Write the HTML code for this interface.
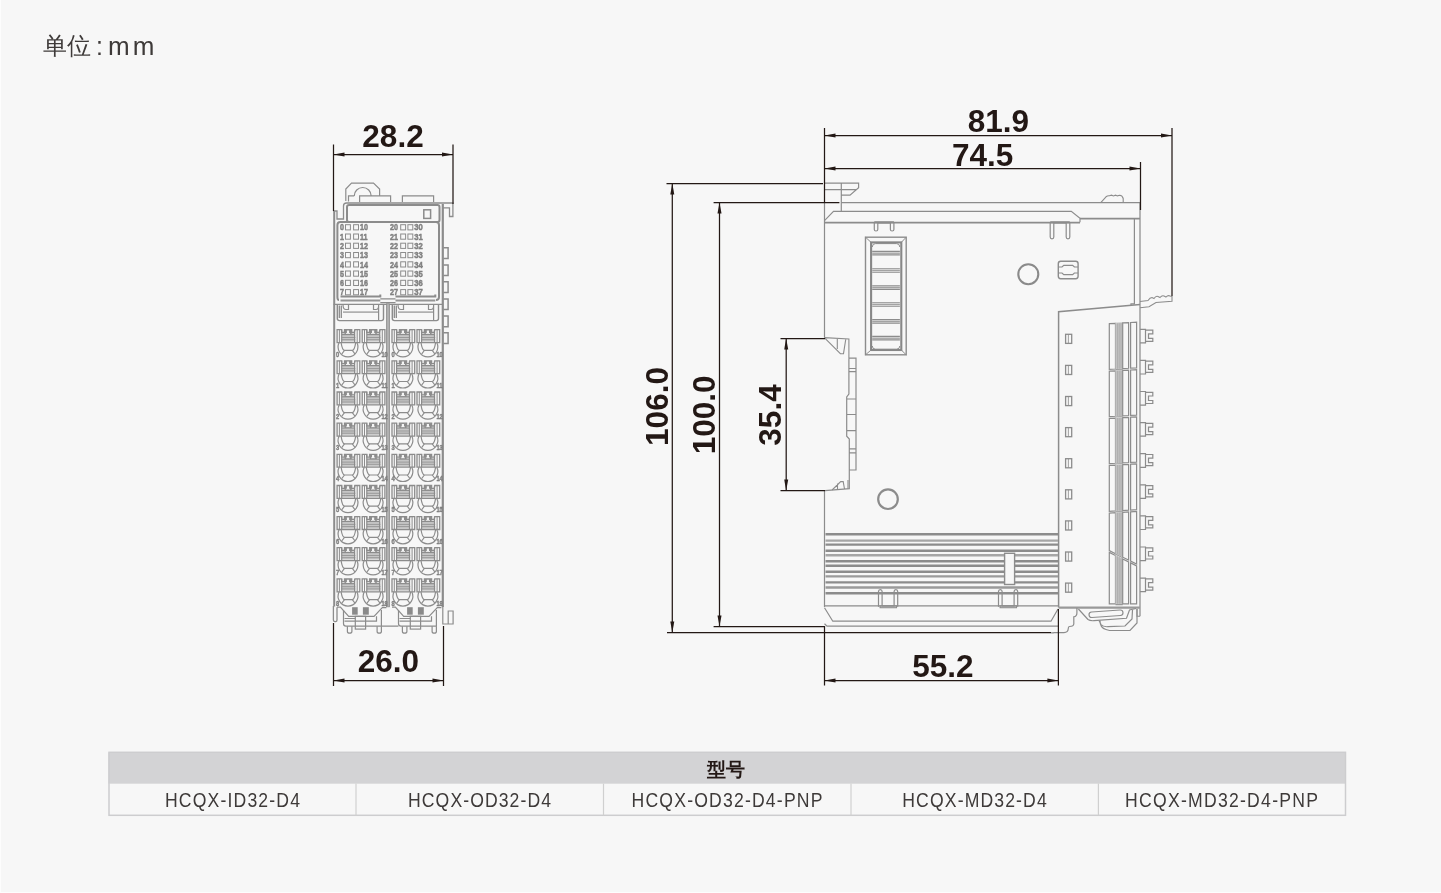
<!DOCTYPE html>
<html><head><meta charset="utf-8">
<style>
html,body{margin:0;padding:0;background:#f7f7f7;width:1441px;height:893px;overflow:hidden}
svg{position:absolute;left:0;top:0;will-change:transform}
.dim{font-family:"Liberation Sans",sans-serif;font-weight:bold;fill:#231815}
.tbl{font-family:"Liberation Sans",sans-serif;fill:#3e3a39}
.lb{font-family:"Liberation Sans",sans-serif;font-weight:bold;fill:#8a8a8a}
</style></head><body>
<svg width="1441" height="893" viewBox="0 0 1441 893">

<defs>
<path id="ar" d="M0 0 L11 -2 L11 2 Z" fill="#231815"/>
<g id="cell" fill="none" stroke="#8c8c8c" stroke-width="1.1">
 <rect x="4.7" y="5.8" width="13.4" height="6.9" fill="#c6c6c6" stroke="none"/>
 <path d="M4.6 8.4 H18.2 M4.6 10.6 H18.2" stroke="#999" stroke-width="1"/>
 <path d="M4.6 12.6 H18.2" stroke="#dedede" stroke-width="0.9"/>
 <path d="M0 13.5 V0.6 H4.6 V3.4 H7.4 V0.6 H14.6 V3.4 H17.2 L17.8 0.6 H22.7 V13.5 Z" stroke-width="1.3"/>
 <path d="M7.4 0.6 H14.6 V5.4 H7.4 Z" fill="#8c8c8c" stroke="none"/>
 <path d="M9.8 1.4 H12 V3.9 H13 V4.9 H8.8 V3.9 H9.8 Z" fill="#f4f4f4" stroke="none"/>
 <path d="M2.3 0.6 V13.5 M20.1 0.6 V13.5" stroke-width="1"/>
 <path d="M4.6 0.6 V13.5 M17.5 0.6 V13.5" stroke-width="1.2"/>
 <path d="M4.6 5.4 H17.5" stroke-width="1.3"/>
 <path d="M2.03 13.5 A9.9 9.9 0 1 0 19.77 13.5" stroke-width="1.2"/>
 <path d="M4 13.5 Q5.2 21.2 7.4 21.3 H15.2 Q17.4 21.2 18.6 13.5" stroke-width="1.2"/>
 <path d="M7.4 21.3 L4.6 25 M15.2 21.3 L18 25" stroke-width="1.1"/>
</g>
</defs>
<rect x="0" y="0" width="1" height="893" fill="#fdfdfd"/><rect x="0" y="892" width="1441" height="1" fill="#fdfdfd"/>
<text class="tbl" x="42.6" y="54" font-size="24">单位</text>
<text class="tbl" x="96" y="55" font-size="25">:</text>
<text class="tbl" x="108" y="55" font-size="26" letter-spacing="3">mm</text>
<g fill="none" stroke="#8c8c8c" stroke-width="1.2">
<path d="M345.8 201 V189 L351.5 183.1 H373.5 L379.6 189 V196" />
<path d="M354.2 196 A8.5 8.5 0 0 1 371.2 196" />
<path d="M348.5 201.5 V195.8 H354.2 M359.6 202 V195.8 H390.6 V202 M402.4 202 V195.8 H433.6 V202" />
<path d="M333.5 211 H337 V219 H343.5 V206 Q343.5 203 346.5 203 H452.9 V216.5 H449.5 V207.8 H442.8" stroke-width="1.3"/>
<rect x="347" y="205" width="92.5" height="17" rx="2" stroke-width="2"/>
<rect x="423.8" y="209.8" width="6.8" height="8.6" stroke-width="1.5"/>
<path d="M339 300 Q337.4 300 337.4 297 V225 Q337.4 222 340.4 222 H436 Q439 222 439 225 V297 Q439 300 436 300" stroke-width="2"/>
<line x1="334.2" y1="211" x2="334.2" y2="606.5" stroke-width="2"/>
<line x1="442.8" y1="204" x2="442.8" y2="607" stroke-width="2.2"/>
<path d="M443.3 247.8 H448.1 V258.5 H443.3" stroke-width="1.5"/>
<path d="M443.3 264.9 H448.1 V275.59999999999997 H443.3" stroke-width="1.5"/>
<path d="M443.3 281.7 H448.1 V292.4 H443.3" stroke-width="1.5"/>
<path d="M443.3 298.9 H448.1 V309.59999999999997 H443.3" stroke-width="1.5"/>
<path d="M443.3 316 H448.1 V326.7 H443.3" stroke-width="1.5"/>
<path d="M443.3 332.8 H448.1 V343.5 H443.3" stroke-width="1.5"/>
<g transform="translate(0,0)">
<path d="M340.5 296.6 H380.3 V294.5" stroke-width="2"/>
<path d="M340.5 300.6 H380.3" stroke-width="2" stroke="#959595"/>
<path d="M337.3 304.4 V318.5 Q337.3 320.6 339.5 320.6 H381.4 Q383.5 320.6 383.5 318.5 V304.4" stroke-width="1.4"/>
<path d="M343 312.1 H378" stroke="#b0b0b0" stroke-width="1.6"/>
<path d="M339.3 305.5 V318 M341.3 305.5 V318" stroke="#8a8a8a" stroke-width="1.3"/>
<path d="M378.6 304.4 V320.6 M343 304.4 Q343 309.5 346 309.5 H348.5 V304.4 M373.5 304.4 V309.5 H376 Q378.6 309.5 378.6 306" stroke-width="1.2"/>
</g>
<g transform="translate(55,0)">
<path d="M340.5 296.6 H380.3 V294.5" stroke-width="2"/>
<path d="M340.5 300.6 H380.3" stroke-width="2" stroke="#959595"/>
<path d="M337.3 304.4 V318.5 Q337.3 320.6 339.5 320.6 H381.4 Q383.5 320.6 383.5 318.5 V304.4" stroke-width="1.4"/>
<path d="M343 312.1 H378" stroke="#b0b0b0" stroke-width="1.6"/>
<path d="M339.3 305.5 V318 M341.3 305.5 V318" stroke="#8a8a8a" stroke-width="1.3"/>
<path d="M378.6 304.4 V320.6 M343 304.4 Q343 309.5 346 309.5 H348.5 V304.4 M373.5 304.4 V309.5 H376 Q378.6 309.5 378.6 306" stroke-width="1.2"/>
</g>
<path d="M380.3 298.8 H395.5 M380.3 302.7 H395.5" stroke-width="1.3"/>
<path d="M333.5 304.4 H442.8" stroke-width="1.4"/>
<rect x="386.5" y="303.8" width="3" height="303" fill="#b0b0b0" stroke="#8c8c8c" stroke-width="0.8"/>
</g>
<use href="#cell" transform="translate(337.1,329.1)"/>
<use href="#cell" transform="translate(362.2,329.1)"/>
<use href="#cell" transform="translate(392,329.1)"/>
<use href="#cell" transform="translate(417,329.1)"/>
<use href="#cell" transform="translate(337.1,360.2)"/>
<use href="#cell" transform="translate(362.2,360.2)"/>
<use href="#cell" transform="translate(392,360.2)"/>
<use href="#cell" transform="translate(417,360.2)"/>
<use href="#cell" transform="translate(337.1,391.4)"/>
<use href="#cell" transform="translate(362.2,391.4)"/>
<use href="#cell" transform="translate(392,391.4)"/>
<use href="#cell" transform="translate(417,391.4)"/>
<use href="#cell" transform="translate(337.1,422.6)"/>
<use href="#cell" transform="translate(362.2,422.6)"/>
<use href="#cell" transform="translate(392,422.6)"/>
<use href="#cell" transform="translate(417,422.6)"/>
<use href="#cell" transform="translate(337.1,453.7)"/>
<use href="#cell" transform="translate(362.2,453.7)"/>
<use href="#cell" transform="translate(392,453.7)"/>
<use href="#cell" transform="translate(417,453.7)"/>
<use href="#cell" transform="translate(337.1,484.9)"/>
<use href="#cell" transform="translate(362.2,484.9)"/>
<use href="#cell" transform="translate(392,484.9)"/>
<use href="#cell" transform="translate(417,484.9)"/>
<use href="#cell" transform="translate(337.1,516.0)"/>
<use href="#cell" transform="translate(362.2,516.0)"/>
<use href="#cell" transform="translate(392,516.0)"/>
<use href="#cell" transform="translate(417,516.0)"/>
<use href="#cell" transform="translate(337.1,547.1)"/>
<use href="#cell" transform="translate(362.2,547.1)"/>
<use href="#cell" transform="translate(392,547.1)"/>
<use href="#cell" transform="translate(417,547.1)"/>
<use href="#cell" transform="translate(337.1,578.3)"/>
<use href="#cell" transform="translate(362.2,578.3)"/>
<use href="#cell" transform="translate(392,578.3)"/>
<use href="#cell" transform="translate(417,578.3)"/>
<g class="lb" font-size="8" fill="#777" stroke="#777" stroke-width="0.4">
<text transform="translate(336.1,356.6) scale(0.72,1)">0</text>
<text transform="translate(381.4,356.6) scale(0.72,1)">10</text>
<text transform="translate(391.4,356.6) scale(0.72,1)">0</text>
<text transform="translate(436.4,356.6) scale(0.72,1)">10</text>
<text transform="translate(336.1,387.8) scale(0.72,1)">1</text>
<text transform="translate(381.4,387.8) scale(0.72,1)">11</text>
<text transform="translate(391.4,387.8) scale(0.72,1)">1</text>
<text transform="translate(436.4,387.8) scale(0.72,1)">11</text>
<text transform="translate(336.1,418.9) scale(0.72,1)">2</text>
<text transform="translate(381.4,418.9) scale(0.72,1)">12</text>
<text transform="translate(391.4,418.9) scale(0.72,1)">2</text>
<text transform="translate(436.4,418.9) scale(0.72,1)">12</text>
<text transform="translate(336.1,450.1) scale(0.72,1)">3</text>
<text transform="translate(381.4,450.1) scale(0.72,1)">13</text>
<text transform="translate(391.4,450.1) scale(0.72,1)">3</text>
<text transform="translate(436.4,450.1) scale(0.72,1)">13</text>
<text transform="translate(336.1,481.2) scale(0.72,1)">4</text>
<text transform="translate(381.4,481.2) scale(0.72,1)">14</text>
<text transform="translate(391.4,481.2) scale(0.72,1)">4</text>
<text transform="translate(436.4,481.2) scale(0.72,1)">14</text>
<text transform="translate(336.1,512.4) scale(0.72,1)">5</text>
<text transform="translate(381.4,512.4) scale(0.72,1)">15</text>
<text transform="translate(391.4,512.4) scale(0.72,1)">5</text>
<text transform="translate(436.4,512.4) scale(0.72,1)">15</text>
<text transform="translate(336.1,543.5) scale(0.72,1)">6</text>
<text transform="translate(381.4,543.5) scale(0.72,1)">16</text>
<text transform="translate(391.4,543.5) scale(0.72,1)">6</text>
<text transform="translate(436.4,543.5) scale(0.72,1)">16</text>
<text transform="translate(336.1,574.6) scale(0.72,1)">7</text>
<text transform="translate(381.4,574.6) scale(0.72,1)">17</text>
<text transform="translate(391.4,574.6) scale(0.72,1)">7</text>
<text transform="translate(436.4,574.6) scale(0.72,1)">17</text>
<text transform="translate(336.1,605.8) scale(0.72,1)">8</text>
<text transform="translate(381.4,605.8) scale(0.72,1)">18</text>
<text transform="translate(391.4,605.8) scale(0.72,1)">8</text>
<text transform="translate(436.4,605.8) scale(0.72,1)">18</text>
</g>
<g class="lb" font-size="9" fill="#777" stroke="#777" stroke-width="0.45">
<text transform="translate(339.9,230.4) scale(0.8,1)">0</text>
<text transform="translate(360.0,230.4) scale(0.8,1)">10</text>
<text transform="translate(389.9,230.4) scale(0.8,1)">20</text>
<text transform="translate(414.2,230.4) scale(0.85,1)">30</text>
<text transform="translate(339.9,239.7) scale(0.8,1)">1</text>
<text transform="translate(360.0,239.7) scale(0.8,1)">11</text>
<text transform="translate(389.9,239.7) scale(0.8,1)">21</text>
<text transform="translate(414.2,239.7) scale(0.85,1)">31</text>
<text transform="translate(339.9,248.9) scale(0.8,1)">2</text>
<text transform="translate(360.0,248.9) scale(0.8,1)">12</text>
<text transform="translate(389.9,248.9) scale(0.8,1)">22</text>
<text transform="translate(414.2,248.9) scale(0.85,1)">32</text>
<text transform="translate(339.9,258.2) scale(0.8,1)">3</text>
<text transform="translate(360.0,258.2) scale(0.8,1)">13</text>
<text transform="translate(389.9,258.2) scale(0.8,1)">23</text>
<text transform="translate(414.2,258.2) scale(0.85,1)">33</text>
<text transform="translate(339.9,267.5) scale(0.8,1)">4</text>
<text transform="translate(360.0,267.5) scale(0.8,1)">14</text>
<text transform="translate(389.9,267.5) scale(0.8,1)">24</text>
<text transform="translate(414.2,267.5) scale(0.85,1)">34</text>
<text transform="translate(339.9,276.8) scale(0.8,1)">5</text>
<text transform="translate(360.0,276.8) scale(0.8,1)">15</text>
<text transform="translate(389.9,276.8) scale(0.8,1)">25</text>
<text transform="translate(414.2,276.8) scale(0.85,1)">35</text>
<text transform="translate(339.9,286.0) scale(0.8,1)">6</text>
<text transform="translate(360.0,286.0) scale(0.8,1)">16</text>
<text transform="translate(389.9,286.0) scale(0.8,1)">26</text>
<text transform="translate(414.2,286.0) scale(0.85,1)">36</text>
<text transform="translate(339.9,295.3) scale(0.8,1)">7</text>
<text transform="translate(360.0,295.3) scale(0.8,1)">17</text>
<text transform="translate(389.9,295.3) scale(0.8,1)">27</text>
<text transform="translate(414.2,295.3) scale(0.85,1)">37</text>
</g>
<g fill="none" stroke="#8c8c8c" stroke-width="1">
<rect x="345.5" y="224.7" width="4.9" height="5.2"/>
<rect x="353.6" y="224.7" width="4.9" height="5.2"/>
<rect x="400.7" y="224.7" width="4.9" height="5.2"/>
<rect x="407.9" y="224.7" width="4.9" height="5.2"/>
<rect x="345.5" y="234.0" width="4.9" height="5.2"/>
<rect x="353.6" y="234.0" width="4.9" height="5.2"/>
<rect x="400.7" y="234.0" width="4.9" height="5.2"/>
<rect x="407.9" y="234.0" width="4.9" height="5.2"/>
<rect x="345.5" y="243.2" width="4.9" height="5.2"/>
<rect x="353.6" y="243.2" width="4.9" height="5.2"/>
<rect x="400.7" y="243.2" width="4.9" height="5.2"/>
<rect x="407.9" y="243.2" width="4.9" height="5.2"/>
<rect x="345.5" y="252.5" width="4.9" height="5.2"/>
<rect x="353.6" y="252.5" width="4.9" height="5.2"/>
<rect x="400.7" y="252.5" width="4.9" height="5.2"/>
<rect x="407.9" y="252.5" width="4.9" height="5.2"/>
<rect x="345.5" y="261.8" width="4.9" height="5.2"/>
<rect x="353.6" y="261.8" width="4.9" height="5.2"/>
<rect x="400.7" y="261.8" width="4.9" height="5.2"/>
<rect x="407.9" y="261.8" width="4.9" height="5.2"/>
<rect x="345.5" y="271.0" width="4.9" height="5.2"/>
<rect x="353.6" y="271.0" width="4.9" height="5.2"/>
<rect x="400.7" y="271.0" width="4.9" height="5.2"/>
<rect x="407.9" y="271.0" width="4.9" height="5.2"/>
<rect x="345.5" y="280.3" width="4.9" height="5.2"/>
<rect x="353.6" y="280.3" width="4.9" height="5.2"/>
<rect x="400.7" y="280.3" width="4.9" height="5.2"/>
<rect x="407.9" y="280.3" width="4.9" height="5.2"/>
<rect x="345.5" y="289.6" width="4.9" height="5.2"/>
<rect x="353.6" y="289.6" width="4.9" height="5.2"/>
<rect x="400.7" y="289.6" width="4.9" height="5.2"/>
<rect x="407.9" y="289.6" width="4.9" height="5.2"/>
</g>
<g fill="none" stroke="#8c8c8c" stroke-width="1.2">
<path d="M333.4 606.1 V620 Q333.4 621.6 335 621.6 H335.5 Q337 621.6 337 620 V607.2" stroke-width="1.3"/>
<g transform="translate(0,0)">
<path d="M337 607.2 H340.4 L348.7 616.3 H374 L382.3 607.7 H386.4"/>
<path d="M343.5 610 V623.5 Q343.5 626.2 346 626.2 H381.4 V610"/>
<path d="M344.5 618.5 H355.3 M344.5 621.2 H376.5 V616.3"/>
<rect x="355.3" y="616.3" width="10.3" height="12.8"/>
<path d="M347.4 626.2 V631.5 Q347.4 633.2 349.6 633.2 Q351.9 633.2 351.9 631.5 V626.2 M377.1 626.2 V631.5 Q377.1 633.2 379.2 633.2 Q381.4 633.2 381.4 631.5 V626.2"/>
<rect x="352.1" y="607.2" width="5.6" height="7.5" fill="#8a8a8a" stroke="none"/>
<rect x="362.9" y="607.2" width="5.9" height="7.5" fill="#8a8a8a" stroke="none"/>
</g>
<g transform="translate(55,0)">
<path d="M337 607.2 H340.4 L348.7 616.3 H374 L382.3 607.7 H386.4"/>
<path d="M343.5 610 V623.5 Q343.5 626.2 346 626.2 H381.4 V610"/>
<path d="M344.5 618.5 H355.3 M344.5 621.2 H376.5 V616.3"/>
<rect x="355.3" y="616.3" width="10.3" height="12.8"/>
<path d="M347.4 626.2 V631.5 Q347.4 633.2 349.6 633.2 Q351.9 633.2 351.9 631.5 V626.2 M377.1 626.2 V631.5 Q377.1 633.2 379.2 633.2 Q381.4 633.2 381.4 631.5 V626.2"/>
<rect x="352.1" y="607.2" width="5.6" height="7.5" fill="#8a8a8a" stroke="none"/>
<rect x="362.9" y="607.2" width="5.9" height="7.5" fill="#8a8a8a" stroke="none"/>
</g>
<path d="M442.8 606 V624 H453.1 V611 H448.2 V624 M381.4 626.2 H398.5" stroke-width="1.2"/>
</g>
<g fill="none" stroke="#8c8c8c" stroke-width="1.2">
<path d="M824.5 183.1 H858.6 V187.8 L850 195.1 H841.3 M824.5 189.7 H856.4 M841.3 183.1 V211.3"/>
<path d="M841.3 202.7 H1140"/>
<path d="M1101 202.3 L1106 196.8 Q1107.5 195.6 1109.5 195.8 L1111.5 195.2 L1113.5 195.9 L1115.5 195.2 L1117.5 195.9 L1119.5 195.3 Q1122.5 195.6 1123.2 198.5 V202" stroke-width="1.1"/>
<path d="M824.5 220.7 L833.5 211.4 H1071.3 L1080 218.4 V222.3" stroke-width="1.15"/>
<path d="M824.5 222.6 H1080 M1080 218.6 H1140" stroke-width="1.9"/>
<path d="M824.5 202 V337.6 M824.5 490.6 V607"/>
<path d="M874.3 222.2 H893.9 M1050.2 222.2 H1069.8" stroke-width="2"/>
<path d="M874.3 222.3 V229.5 Q874.3 231 876 231 Q877.8 231 877.8 229.5 V222.8 H890.4 V229.5 Q890.4 231 892.1 231 Q893.9 231 893.9 229.5 V222.3"/>
<path d="M1050.2 222.3 V237 Q1050.2 238.8 1052 238.8 Q1053.8 238.8 1053.8 237 V223 H1066.2 V237 Q1066.2 238.8 1068 238.8 Q1069.8 238.8 1069.8 237 V222.3"/>
<rect x="865.5" y="237.2" width="40.7" height="117.6" stroke-width="1.4"/>
<rect x="871.1" y="242.4" width="30.2" height="107.6" stroke-width="2.1" stroke="#878787"/>
<path d="M865.5 237.2 L871.1 242.4 M906.2 237.2 L901.3 242.4 M865.5 354.8 L871.1 350 M906.2 354.8 L901.3 350" stroke-width="1"/>
<path d="M872.3 247 Q872.3 243.6 875.5 243.6 H896.5 Q899.8 243.6 899.8 247" stroke-width="1"/>
<path d="M872.3 346 Q872.3 349.2 875.5 349.2 H896.5 Q899.8 349.2 899.8 346" stroke-width="1"/>
<path d="M872.2 251.4 H899.9 M872.2 254.9 H899.9" stroke-width="1.1"/>
<path d="M872.2 253.2 H899.9" stroke-width="1.4" stroke="#a3a3a3"/>
<path d="M872.2 268.7 H899.9 M872.2 272.2 H899.9" stroke-width="1.1"/>
<path d="M872.2 270.5 H899.9" stroke-width="1.4" stroke="#a3a3a3"/>
<path d="M872.2 285.9 H899.9 M872.2 289.4 H899.9" stroke-width="1.1"/>
<path d="M872.2 287.7 H899.9" stroke-width="1.4" stroke="#a3a3a3"/>
<path d="M872.2 302.7 H899.9 M872.2 306.2 H899.9" stroke-width="1.1"/>
<path d="M872.2 304.5 H899.9" stroke-width="1.4" stroke="#a3a3a3"/>
<path d="M872.2 319.6 H899.9 M872.2 323.1 H899.9" stroke-width="1.1"/>
<path d="M872.2 321.4 H899.9" stroke-width="1.4" stroke="#a3a3a3"/>
<path d="M872.2 336.4 H899.9 M872.2 339.9 H899.9" stroke-width="1.1"/>
<path d="M872.2 338.2 H899.9" stroke-width="1.4" stroke="#a3a3a3"/>
<circle cx="1028.3" cy="274.2" r="10" stroke-width="2.1" stroke="#8a8a8a"/>
<rect x="1058.3" y="261.3" width="19.8" height="17.4" rx="2.4" stroke-width="1.4"/>
<path d="M1058.3 267 H1062 L1063.8 265.3 H1072.6 L1074.4 267 H1078.1 M1058.3 273 H1062 L1063.8 274.7 H1072.6 L1074.4 273 H1078.1" stroke-width="1.2"/>
<path d="M1134.4 218.4 V303.9 H1131 V306" stroke-width="1.2"/>
<path d="M1140 202.7 V616.3" stroke-width="1.25"/>
<path d="M1058.6 607.6 V311.7 L1140 304.6" stroke-width="1.5"/>
<path d="M1058.6 607.6 H1140" stroke-width="2.4" stroke="#999"/>
<rect x="1065.6" y="334.3" width="6.1" height="9.1" stroke-width="1.3"/>
<path d="M1068.4 334.3 V343.4" stroke-width="0.8"/>
<rect x="1065.6" y="365.4" width="6.1" height="9.1" stroke-width="1.3"/>
<path d="M1068.4 365.4 V374.5" stroke-width="0.8"/>
<rect x="1065.6" y="396.5" width="6.1" height="9.1" stroke-width="1.3"/>
<path d="M1068.4 396.5 V405.6" stroke-width="0.8"/>
<rect x="1065.6" y="427.6" width="6.1" height="9.1" stroke-width="1.3"/>
<path d="M1068.4 427.6 V436.7" stroke-width="0.8"/>
<rect x="1065.6" y="458.7" width="6.1" height="9.1" stroke-width="1.3"/>
<path d="M1068.4 458.7 V467.8" stroke-width="0.8"/>
<rect x="1065.6" y="489.8" width="6.1" height="9.1" stroke-width="1.3"/>
<path d="M1068.4 489.8 V498.9" stroke-width="0.8"/>
<rect x="1065.6" y="520.9" width="6.1" height="9.1" stroke-width="1.3"/>
<path d="M1068.4 520.9 V530.0" stroke-width="0.8"/>
<rect x="1065.6" y="552.0" width="6.1" height="9.1" stroke-width="1.3"/>
<path d="M1068.4 552.0 V561.1" stroke-width="0.8"/>
<rect x="1065.6" y="583.1" width="6.1" height="9.1" stroke-width="1.3"/>
<path d="M1068.4 583.1 V592.2" stroke-width="0.8"/>
<path d="M1140 329.3 H1145.5 V342.9 H1140 M1145.5 330.1 H1152.8 V333.8 H1148.5 V338.3 H1152.8 V341.3 H1145.5" stroke-width="1.2"/>
<path d="M1140 360.4 H1145.5 V374.0 H1140 M1145.5 361.2 H1152.8 V364.9 H1148.5 V369.4 H1152.8 V372.4 H1145.5" stroke-width="1.2"/>
<path d="M1140 391.5 H1145.5 V405.1 H1140 M1145.5 392.3 H1152.8 V396.0 H1148.5 V400.5 H1152.8 V403.5 H1145.5" stroke-width="1.2"/>
<path d="M1140 422.6 H1145.5 V436.2 H1140 M1145.5 423.4 H1152.8 V427.1 H1148.5 V431.6 H1152.8 V434.6 H1145.5" stroke-width="1.2"/>
<path d="M1140 453.7 H1145.5 V467.3 H1140 M1145.5 454.5 H1152.8 V458.2 H1148.5 V462.7 H1152.8 V465.7 H1145.5" stroke-width="1.2"/>
<path d="M1140 484.8 H1145.5 V498.4 H1140 M1145.5 485.6 H1152.8 V489.3 H1148.5 V493.8 H1152.8 V496.8 H1145.5" stroke-width="1.2"/>
<path d="M1140 515.9 H1145.5 V529.5 H1140 M1145.5 516.7 H1152.8 V520.4 H1148.5 V524.9 H1152.8 V527.9 H1145.5" stroke-width="1.2"/>
<path d="M1140 547.0 H1145.5 V560.6 H1140 M1145.5 547.8 H1152.8 V551.5 H1148.5 V556.0 H1152.8 V559.0 H1145.5" stroke-width="1.2"/>
<path d="M1140 578.1 H1145.5 V591.7 H1140 M1145.5 578.9 H1152.8 V582.6 H1148.5 V587.1 H1152.8 V590.1 H1145.5" stroke-width="1.2"/>
<path d="M1109.3 323.7 L1115.5 323.3 V369.0 L1109.3 369.3 Z" stroke-width="1.2"/>
<path d="M1115.5 322.4 L1122.7 322.0 V369.5 L1115.5 369.9 Z" fill="#d2d2d2" stroke="none"/>
<path d="M1115.5 369.9 L1122.7 369.5" stroke-width="1.1"/>
<path d="M1117.2 323.2 V368.9" stroke="#9a9a9a" stroke-width="0.9"/>
<path d="M1119.1 323.1 V368.8" stroke="#9a9a9a" stroke-width="0.9"/>
<path d="M1121.0 323.0 V368.7" stroke="#9a9a9a" stroke-width="0.9"/>
<path d="M1122.7 322.9 L1128.6 322.6 V368.3 L1122.7 368.6 Z" stroke-width="1.2"/>
<path d="M1130.6 322.5 L1136.6 322.1 V367.9 L1130.6 368.2 Z" stroke-width="1.2"/>
<path d="M1109.3 371.1 L1115.5 370.8 V416.3 L1109.3 416.6 Z" stroke-width="1.2"/>
<path d="M1115.5 369.9 L1122.7 369.5 V416.8 L1115.5 417.2 Z" fill="#d2d2d2" stroke="none"/>
<path d="M1115.5 417.2 L1122.7 416.8" stroke-width="1.1"/>
<path d="M1117.2 370.7 V416.2" stroke="#9a9a9a" stroke-width="0.9"/>
<path d="M1119.1 370.6 V416.1" stroke="#9a9a9a" stroke-width="0.9"/>
<path d="M1121.0 370.5 V416.0" stroke="#9a9a9a" stroke-width="0.9"/>
<path d="M1122.7 370.4 L1128.6 370.1 V415.5 L1122.7 415.9 Z" stroke-width="1.2"/>
<path d="M1130.6 370.0 L1136.6 369.7 V415.1 L1130.6 415.4 Z" stroke-width="1.2"/>
<path d="M1109.3 418.4 L1115.5 418.1 V463.3 L1109.3 463.6 Z" stroke-width="1.2"/>
<path d="M1115.5 417.2 L1122.7 416.8 V463.8 L1115.5 464.2 Z" fill="#d2d2d2" stroke="none"/>
<path d="M1115.5 464.2 L1122.7 463.8" stroke-width="1.1"/>
<path d="M1117.2 418.0 V463.2" stroke="#9a9a9a" stroke-width="0.9"/>
<path d="M1119.1 417.9 V463.1" stroke="#9a9a9a" stroke-width="0.9"/>
<path d="M1121.0 417.8 V463.0" stroke="#9a9a9a" stroke-width="0.9"/>
<path d="M1122.7 417.7 L1128.6 417.3 V462.5 L1122.7 462.9 Z" stroke-width="1.2"/>
<path d="M1130.6 417.2 L1136.6 416.9 V462.1 L1130.6 462.4 Z" stroke-width="1.2"/>
<path d="M1109.3 465.4 L1115.5 465.1 V510.9 L1109.3 511.3 Z" stroke-width="1.2"/>
<path d="M1115.5 464.2 L1122.7 463.8 V511.4 L1115.5 511.8 Z" fill="#d2d2d2" stroke="none"/>
<path d="M1115.5 511.8 L1122.7 511.4" stroke-width="1.1"/>
<path d="M1117.2 465.0 V510.8" stroke="#9a9a9a" stroke-width="0.9"/>
<path d="M1119.1 464.9 V510.7" stroke="#9a9a9a" stroke-width="0.9"/>
<path d="M1121.0 464.8 V510.6" stroke="#9a9a9a" stroke-width="0.9"/>
<path d="M1122.7 464.7 L1128.6 464.3 V510.2 L1122.7 510.5 Z" stroke-width="1.2"/>
<path d="M1130.6 464.2 L1136.6 463.9 V509.7 L1130.6 510.1 Z" stroke-width="1.2"/>
<path d="M1109.3 513.1 L1115.5 512.7 V553.7 L1109.3 550.6 Z" stroke-width="1.2"/>
<path d="M1115.5 511.8 L1122.7 511.4 V558.1 L1115.5 554.6 Z" fill="#d2d2d2" stroke="none"/>
<path d="M1115.5 554.6 L1122.7 558.1" stroke-width="1.1"/>
<path d="M1117.2 512.6 V554.5" stroke="#9a9a9a" stroke-width="0.9"/>
<path d="M1119.1 512.5 V555.4" stroke="#9a9a9a" stroke-width="0.9"/>
<path d="M1121.0 512.4 V556.4" stroke="#9a9a9a" stroke-width="0.9"/>
<path d="M1122.7 512.3 L1128.6 512.0 V560.1 L1122.7 557.2 Z" stroke-width="1.2"/>
<path d="M1130.6 511.9 L1136.6 511.5 V564.1 L1130.6 561.1 Z" stroke-width="1.2"/>
<path d="M1109.3 552.4 L1115.5 555.5 V603.8 L1109.3 603.8 Z" stroke-width="1.2"/>
<path d="M1115.5 554.6 L1122.7 558.1 V604.7 L1115.5 604.7 Z" fill="#d2d2d2" stroke="none"/>
<path d="M1115.5 604.7 L1122.7 604.7" stroke-width="1.1"/>
<path d="M1117.2 556.3 V603.8" stroke="#9a9a9a" stroke-width="0.9"/>
<path d="M1119.1 557.2 V603.8" stroke="#9a9a9a" stroke-width="0.9"/>
<path d="M1121.0 558.2 V603.8" stroke="#9a9a9a" stroke-width="0.9"/>
<path d="M1122.7 559.0 L1128.6 561.9 V603.8 L1122.7 603.8 Z" stroke-width="1.2"/>
<path d="M1130.6 562.9 L1136.6 565.9 V603.8 L1130.6 603.8 Z" stroke-width="1.2"/>
<path d="M1140 301.5 L1148 300.5 Q1150 297.5 1152 297.5 L1154 298.5 Q1156 295.5 1158 296.5 L1160 297.5 Q1162 295 1164 296 L1166 297 Q1168 294.8 1170 296 L1172 296.5 V301.3 L1156 302.5 L1149 306.8 L1140 307.8" stroke-width="1.1"/>
<path d="M824.3 337.6 L848.9 339 V358.2 M824.3 337.6 L840.4 353.7 H843.5 L845.8 339 M837.3 339 V349" stroke-width="1.1"/>
<path d="M848.9 358.2 H856 V470 H849.3 M848.9 358.2 V394 L846.7 397 V436.2 L849.3 439 V488.6 L825 490.6 M848.9 368.5 H856 M848.9 371.7 H856 M846.7 399 H856 M846.7 414.5 H856 M846.7 430.7 H856 M849.3 448.8 H856 M849.3 452.8 H856" stroke-width="1.2"/>
<path d="M832.1 490 L840.7 481.6 H843.2 L844.5 489 M837.5 483.5 V490 M848 480 V489" stroke-width="1.1"/>
<circle cx="888" cy="499.2" r="9.8" stroke-width="2.2"/>
<path d="M825.5 534.3 H1058" stroke="#8c8c8c" stroke-width="2.4"/>
<path d="M825.5 540.6 H1058" stroke="#a6a6a6" stroke-width="2.4"/>
<path d="M825.5 544.6 H1058" stroke="#8c8c8c" stroke-width="2.4"/>
<path d="M825.5 550.7 H1058" stroke="#8c8c8c" stroke-width="2.4"/>
<path d="M825.5 555.2 H1058" stroke="#a6a6a6" stroke-width="2.4"/>
<path d="M825.5 561.3 H1058" stroke="#8c8c8c" stroke-width="2.4"/>
<path d="M825.5 565.8 H1058" stroke="#8c8c8c" stroke-width="2.4"/>
<path d="M825.5 571.8 H1058" stroke="#8c8c8c" stroke-width="2.4"/>
<path d="M825.5 576.4 H1058" stroke="#9a9a9a" stroke-width="2.4"/>
<path d="M825.5 582.4 H1058" stroke="#8c8c8c" stroke-width="2.4"/>
<path d="M825.5 587.5 H1058" stroke="#9a9a9a" stroke-width="2.4"/>
<path d="M825.5 593.2 H1058" stroke="#8c8c8c" stroke-width="2.4"/>
<rect x="1004.6" y="553.3" width="10" height="31.2" fill="#f7f7f7" stroke-width="1.4"/>
<rect x="880.1" y="605.9" width="16.4" height="1.8" stroke-width="1.1"/>
<rect x="1000.1" y="605.9" width="16.4" height="1.8" stroke-width="1.1"/>
<path d="M878.5 606.7 V591.5 Q878.5 589.6 880.3 589.6 Q882.1 589.6 882.1 591.5 V606 H894.1 V591.5 Q894.1 589.6 895.9 589.6 Q897.7 589.6 897.7 591.5 V606.7" stroke-width="1.2"/>
<path d="M998.5 606.7 V591.5 Q998.5 589.6 1000.3 589.6 Q1002.1 589.6 1002.1 591.5 V606 H1014.1 V591.5 Q1014.1 589.6 1015.9 589.6 Q1017.7 589.6 1017.7 591.5 V606.7" stroke-width="1.2"/>
<path d="M824.5 605.9 H1058.6" stroke-width="1.4"/>
<path d="M824.5 623.8 L827 626.2 H1058" stroke-width="1.2"/>
<path d="M824.5 607.8 L832.8 621.2 H1051 L1058 609" stroke-width="1.2"/>
<path d="M1051 632.7 Q1052.5 633.2 1054 632.6 H1064 Q1068 632.5 1068.2 629 Q1068.2 626.6 1069.5 626.5 Q1073.6 626.3 1073.8 624 V616.8 Q1076.9 616.5 1076.9 613 V608" stroke-width="1.2"/>
<path d="M1078.4 609 L1088 619.5 Q1090 621 1094 620.7 L1126.5 618.3 L1129.5 610 L1136 608.5" stroke-width="1.2"/>
<rect x="1089" y="611" width="34" height="5.5" rx="2.7" transform="rotate(-4 1106 613.7)" stroke-width="1.2"/>
<path d="M1099 620.5 L1101 624.5 Q1103 627 1108 626.7 L1125 626 L1132 619 L1132.5 610 M1100 620.5 Q1100 628 1106 629.5 L1109.5 630.5 H1130 L1137 623 V609" stroke-width="1.2"/>
<path d="M1137 609 V616.3 H1140" stroke-width="1.1"/>
</g>
<g stroke="#231815" stroke-width="1.25" fill="none">
 <line x1="333.5" y1="144.5" x2="333.5" y2="211"/>
 <line x1="453" y1="144.5" x2="453" y2="204"/>
 <line x1="333.5" y1="154.5" x2="453" y2="154.5"/>
 <line x1="333.5" y1="623" x2="333.5" y2="686"/>
 <line x1="443.5" y1="626" x2="443.5" y2="686"/>
 <line x1="333.5" y1="680.5" x2="443.5" y2="680.5"/>
 <line x1="824.5" y1="128" x2="824.5" y2="202"/>
 <line x1="1172" y1="128" x2="1172" y2="296"/>
 <line x1="824.5" y1="135.5" x2="1172" y2="135.5"/>
 <line x1="1140.5" y1="162" x2="1140.5" y2="210"/>
 <line x1="824.5" y1="168.5" x2="1140.5" y2="168.5"/>
 <line x1="666.5" y1="183.5" x2="823" y2="183.5"/>
 <line x1="667" y1="632.5" x2="1051" y2="632.5"/>
 <line x1="672.3" y1="183.2" x2="672.3" y2="632.5"/>
 <line x1="713.6" y1="202.5" x2="839.4" y2="202.5"/>
 <line x1="713.6" y1="626.5" x2="825" y2="626.5"/>
 <line x1="719.5" y1="202.2" x2="719.5" y2="626"/>
 <line x1="780.5" y1="338.5" x2="825" y2="338.5"/>
 <line x1="780.5" y1="490.5" x2="825" y2="490.5"/>
 <line x1="786.2" y1="338" x2="786.2" y2="490.6"/>
 <line x1="824.5" y1="626" x2="824.5" y2="685.5"/>
 <line x1="1058.4" y1="609" x2="1058.4" y2="685.5"/>
 <line x1="824.5" y1="680.5" x2="1058.4" y2="680.5"/>
</g>
<g>
 <use href="#ar" transform="translate(333.5,154.5)"/>
 <use href="#ar" transform="translate(453,154.5) rotate(180)"/>
 <use href="#ar" transform="translate(333.5,680.5)"/>
 <use href="#ar" transform="translate(443.5,680.5) rotate(180)"/>
 <use href="#ar" transform="translate(824.5,135.5)"/>
 <use href="#ar" transform="translate(1172,135.5) rotate(180)"/>
 <use href="#ar" transform="translate(824.5,168.5)"/>
 <use href="#ar" transform="translate(1140.5,168.5) rotate(180)"/>
 <use href="#ar" transform="translate(672.3,183.5) rotate(90)"/>
 <use href="#ar" transform="translate(672.3,632.5) rotate(-90)"/>
 <use href="#ar" transform="translate(719.5,202.5) rotate(90)"/>
 <use href="#ar" transform="translate(719.5,626.5) rotate(-90)"/>
 <use href="#ar" transform="translate(786.2,338.5) rotate(90)"/>
 <use href="#ar" transform="translate(786.2,490.5) rotate(-90)"/>
 <use href="#ar" transform="translate(824.5,680.5)"/>
 <use href="#ar" transform="translate(1058.4,680.5) rotate(180)"/>
</g>
<g class="dim" font-size="31.5">
 <text x="393" y="146.8" text-anchor="middle">28.2</text>
 <text x="388.3" y="671.5" text-anchor="middle">26.0</text>
 <text x="998.3" y="132.2" text-anchor="middle">81.9</text>
 <text x="982.6" y="165.9" text-anchor="middle">74.5</text>
 <text x="942.8" y="677" text-anchor="middle">55.2</text>
 <text transform="translate(668,406.5) rotate(-90)" text-anchor="middle">106.0</text>
 <text transform="translate(715.4,414.9) rotate(-90)" text-anchor="middle">100.0</text>
 <text transform="translate(780.8,415) rotate(-90)" text-anchor="middle">35.4</text>
</g>

<rect x="108.5" y="752.3" width="1237" height="31.4" fill="#d3d3d5"/>
<rect x="109" y="752.3" width="1236.5" height="63" fill="none" stroke="#cdcdcf" stroke-width="1.5"/>
<g stroke="#d0d0d0" stroke-width="1.2">
 <line x1="356" y1="783.6" x2="356" y2="815.4"/>
 <line x1="603.5" y1="783.6" x2="603.5" y2="815.4"/>
 <line x1="851" y1="783.6" x2="851" y2="815.4"/>
 <line x1="1098.4" y1="783.6" x2="1098.4" y2="815.4"/>
</g>
<text x="726" y="776" text-anchor="middle" font-size="19" font-weight="bold" fill="#231815" font-family="Liberation Sans, sans-serif">型号</text>
<g class="tbl" font-size="20.5" text-anchor="middle" fill="#4a4646">
 <text transform="translate(232.5,806.5) scale(0.86,1)" x="0" y="0" textLength="157.0" lengthAdjust="spacing">HCQX-ID32-D4</text>
 <text transform="translate(479.5,806.5) scale(0.86,1)" x="0" y="0" textLength="166.3" lengthAdjust="spacing">HCQX-OD32-D4</text>
 <text transform="translate(727,806.5) scale(0.86,1)" x="0" y="0" textLength="222.1" lengthAdjust="spacing">HCQX-OD32-D4-PNP</text>
 <text transform="translate(974.5,806.5) scale(0.86,1)" x="0" y="0" textLength="168.0" lengthAdjust="spacing">HCQX-MD32-D4</text>
 <text transform="translate(1221.5,806.5) scale(0.86,1)" x="0" y="0" textLength="224.4" lengthAdjust="spacing">HCQX-MD32-D4-PNP</text>
</g>
</svg>
</body></html>
